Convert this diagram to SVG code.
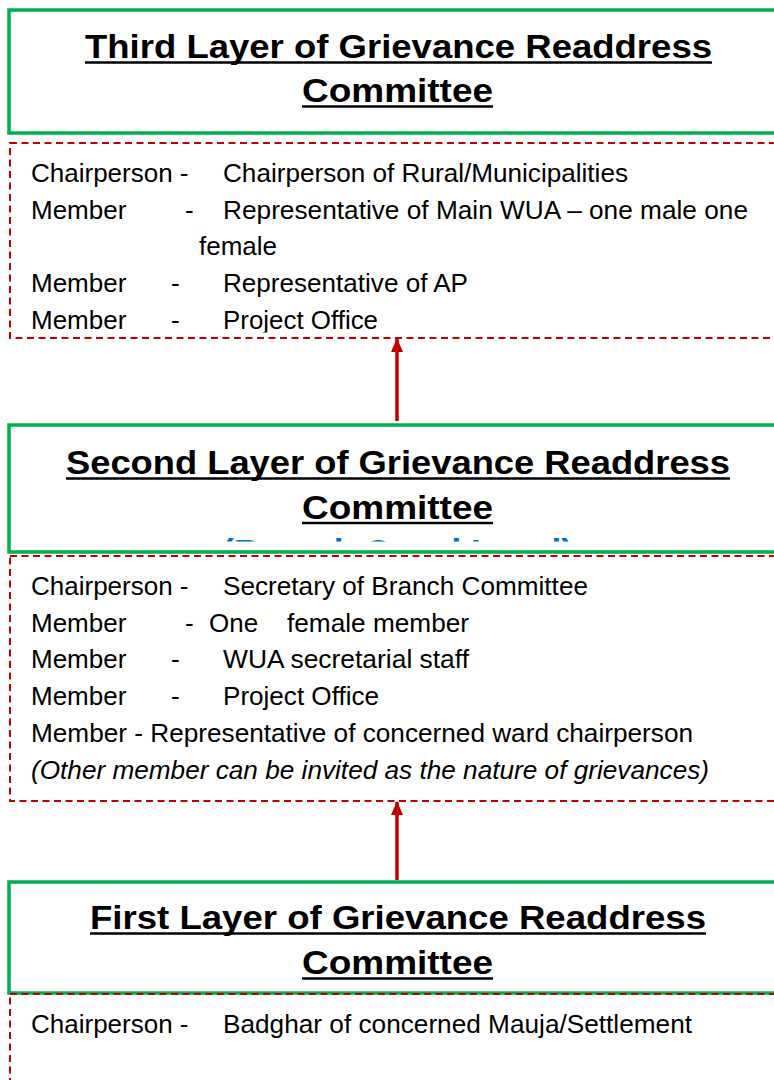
<svg xmlns="http://www.w3.org/2000/svg" width="774" height="1080" viewBox="0 0 774 1080">
  <style>
    .head { fill: #ffffff; stroke: #00b050; stroke-width: 3.5; }
    .list { fill: none; stroke: #c00000; stroke-width: 2; stroke-dasharray: 7 4.5; }
    .title { font-family: "Liberation Sans", Arial, sans-serif; font-weight: bold; font-size: 34px; fill: #000000; text-anchor: middle; }
    .uline { stroke: #000000; stroke-width: 2.5; }
    .body { font-family: "Liberation Sans", Arial, sans-serif; font-size: 26px; fill: #000000; }
    .note { font-style: italic; }
    .sub { font-family: "Liberation Sans", Arial, sans-serif; font-weight: bold; font-size: 35px; fill: #0070c0; }
    .arrow { stroke: #c00000; stroke-width: 3.5; fill: none; }
  </style>
  <defs>
    <marker id="head" markerWidth="14" markerHeight="12" refX="13" refY="6" orient="auto" markerUnits="userSpaceOnUse" viewBox="0 0 14 12">
      <path d="M0 0 L14 6 L0 12 Z" fill="#c00000"/>
    </marker>
    <clipPath id="clip-list3"><rect x="10" y="144" width="770" height="188.5"/></clipPath>
    <clipPath id="clip-sub2"><rect x="11" y="427" width="770" height="114.5"/></clipPath>
  </defs>

  <rect width="774" height="1080" fill="#ffffff"/>

  <!-- Third layer: heading -->
  <g id="layer3">
    <rect class="head" x="9" y="10" width="800" height="123"/>
    <text class="title" x="398.5" y="58" textLength="627" lengthAdjust="spacingAndGlyphs">Third Layer of Grievance Readdress</text>
    <line class="uline" x1="85" y1="62.5" x2="712" y2="62.5"/>
    <text class="title" x="397.5" y="102" textLength="191" lengthAdjust="spacingAndGlyphs">Committee</text>
    <line class="uline" x1="302" y1="106.5" x2="493" y2="106.5"/>
  </g>

  <!-- Third layer: members -->
  <g id="layer3-members">
    <rect class="list" x="10" y="143" width="800" height="195"/>
    <g clip-path="url(#clip-list3)">
      <text class="body" x="31" y="182">Chairperson -</text>
      <text class="body" x="223" y="182" textLength="405" lengthAdjust="spacingAndGlyphs">Chairperson of Rural/Municipalities</text>
      <text class="body" x="31" y="218.5">Member</text>
      <text class="body" x="185" y="218.5">-</text>
      <text class="body" x="223" y="218.5" textLength="525" lengthAdjust="spacingAndGlyphs">Representative of Main WUA – one male one</text>
      <text class="body" x="199" y="255">female</text>
      <text class="body" x="31" y="292">Member</text>
      <text class="body" x="171" y="292">-</text>
      <text class="body" x="223" y="292" textLength="245" lengthAdjust="spacingAndGlyphs">Representative of AP</text>
      <text class="body" x="31" y="329">Member</text>
      <text class="body" x="171" y="329">-</text>
      <text class="body" x="223" y="329" textLength="155" lengthAdjust="spacingAndGlyphs">Project Office</text>
    </g>
  </g>

  <!-- Second layer: heading -->
  <g id="layer2">
    <rect class="head" x="9" y="425" width="800" height="127"/>
    <text class="sub" x="222" y="564" textLength="351" lengthAdjust="spacingAndGlyphs" clip-path="url(#clip-sub2)">(Branch Canal Level)</text>
    <text class="title" x="398" y="474" textLength="664" lengthAdjust="spacingAndGlyphs">Second Layer of Grievance Readdress</text>
    <line class="uline" x1="66" y1="478.5" x2="730" y2="478.5"/>
    <text class="title" x="397.5" y="518.5" textLength="191" lengthAdjust="spacingAndGlyphs">Committee</text>
    <line class="uline" x1="302" y1="523" x2="493" y2="523"/>
  </g>

  <!-- Second layer: members -->
  <g id="layer2-members">
    <rect class="list" x="10" y="556" width="800" height="245"/>
    <text class="body" x="31" y="595">Chairperson -</text>
    <text class="body" x="223" y="595" textLength="365" lengthAdjust="spacingAndGlyphs">Secretary of Branch Committee</text>
    <text class="body" x="31" y="631.5">Member</text>
    <text class="body" x="185" y="631.5">-</text>
    <text class="body" x="209" y="631.5">One</text>
    <text class="body" x="287" y="631.5" textLength="182" lengthAdjust="spacingAndGlyphs">female member</text>
    <text class="body" x="31" y="668">Member</text>
    <text class="body" x="171" y="668">-</text>
    <text class="body" x="223" y="668" textLength="246" lengthAdjust="spacingAndGlyphs">WUA secretarial staff</text>
    <text class="body" x="31" y="705">Member</text>
    <text class="body" x="171" y="705">-</text>
    <text class="body" x="223" y="705" textLength="156" lengthAdjust="spacingAndGlyphs">Project Office</text>
    <text class="body" x="31" y="742" textLength="662" lengthAdjust="spacingAndGlyphs">Member - Representative of concerned ward chairperson</text>
    <text class="body note" x="31" y="779" textLength="678" lengthAdjust="spacingAndGlyphs">(Other member can be invited as the nature of grievances)</text>
  </g>

  <!-- First layer: heading -->
  <g id="layer1">
    <rect class="head" x="9" y="882" width="800" height="111"/>
    <text class="title" x="398" y="929" textLength="616" lengthAdjust="spacingAndGlyphs">First Layer of Grievance Readdress</text>
    <line class="uline" x1="90" y1="933.5" x2="706" y2="933.5"/>
    <text class="title" x="397.5" y="974" textLength="191" lengthAdjust="spacingAndGlyphs">Committee</text>
    <line class="uline" x1="302" y1="978.5" x2="493" y2="978.5"/>
  </g>

  <!-- First layer: members -->
  <g id="layer1-members">
    <rect class="list" x="10" y="994" width="800" height="200"/>
    <text class="body" x="31" y="1033">Chairperson -</text>
    <text class="body" x="223" y="1033" textLength="469" lengthAdjust="spacingAndGlyphs">Badghar of concerned Mauja/Settlement</text>
  </g>

  <!-- Escalation arrows between layers -->
  <g id="connectors">
    <line class="arrow" x1="397" y1="421" x2="397" y2="339" marker-end="url(#head)"/>
    <line class="arrow" x1="397" y1="880" x2="397" y2="802" marker-end="url(#head)"/>
  </g>
</svg>
